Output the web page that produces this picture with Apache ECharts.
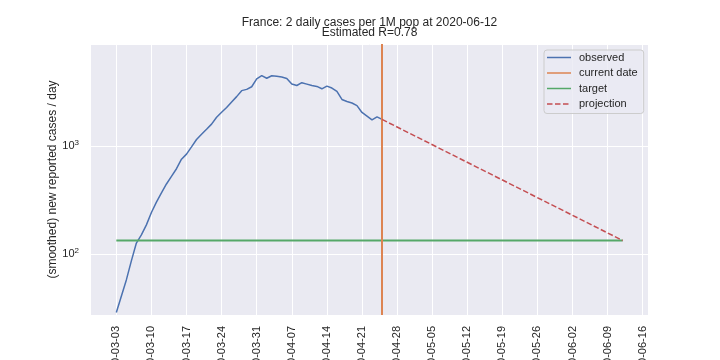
<!DOCTYPE html>
<html><head><meta charset="utf-8">
<script src="https://cdn.jsdelivr.net/npm/echarts@6/dist/echarts.min.js"></script>
<style>html,body{margin:0;padding:0;background:#fff}#c{width:720px;height:360px}</style>
</head><body><div id="c"></div>
<script>
// ---- data ----
const observedDates = [
  '2020-03-03','2020-03-04','2020-03-05','2020-03-06','2020-03-07','2020-03-08','2020-03-09',
  '2020-03-10','2020-03-11','2020-03-12','2020-03-13','2020-03-14','2020-03-15','2020-03-16',
  '2020-03-17','2020-03-18','2020-03-19','2020-03-20','2020-03-21','2020-03-22','2020-03-23',
  '2020-03-24','2020-03-25','2020-03-26','2020-03-27','2020-03-28','2020-03-29','2020-03-30',
  '2020-03-31','2020-04-01','2020-04-02','2020-04-03','2020-04-04','2020-04-05','2020-04-06',
  '2020-04-07','2020-04-08','2020-04-09','2020-04-10','2020-04-11','2020-04-12','2020-04-13',
  '2020-04-14','2020-04-15','2020-04-16','2020-04-17','2020-04-18','2020-04-19','2020-04-20',
  '2020-04-21','2020-04-22','2020-04-23','2020-04-24','2020-04-25'
];
const observedValues = [
  29, 41, 58, 87, 127, 151, 187,
  243, 303, 369, 446, 525, 617, 755,
  841, 982, 1148, 1285, 1429, 1592, 1845,
  2050, 2265, 2547, 2858, 3245, 3335, 3525,
  4170, 4470, 4225, 4450, 4400, 4335, 4210,
  3740, 3620, 3845, 3730, 3615, 3550, 3375,
  3575, 3430, 3200, 2690, 2580, 2495, 2360,
  2040, 1890, 1745, 1860, 1760
];
const currentDate = '2020-04-25';
const targetDates = ['2020-03-03', '2020-06-12'];
const targetValues = [134, 134];
const projectionDates = ['2020-04-25', '2020-06-12'];
const projectionValues = [1760, 134];
const xTickLabels = ['2020-03-03','2020-03-10','2020-03-17','2020-03-24','2020-03-31','2020-04-07',
  '2020-04-14','2020-04-21','2020-04-28','2020-05-05','2020-05-12','2020-05-19','2020-05-26',
  '2020-06-02','2020-06-09','2020-06-16'];

// ---- helpers ----
const T0 = Date.UTC(2020, 2, 3);
function dayOf(s) { const p = s.split('-').map(Number); return (Date.UTC(p[0], p[1]-1, p[2]) - T0) / 86400000; }
function dateOf(d) { const t = new Date(T0 + Math.round(d) * 86400000); return t.toISOString().slice(0, 10); }
const pairs = (ds, vs) => ds.map((d, i) => [dayOf(d), vs[i]]);
const tickDays = xTickLabels.map(dayOf);

const textColor = '#262626';
const C = { blue: '#4C72B0', orange: '#DD8452', green: '#55A868', red: '#C44E52' };

const chart = echarts.init(document.getElementById('c'), null, { renderer: 'canvas' });
chart.setOption({
  animation: false,
  backgroundColor: '#ffffff',
  textStyle: { fontFamily: 'Liberation Sans, Arial, sans-serif', color: textColor },
  title: {
    text: 'France: 2 daily cases per 1M pop at 2020-06-12\nEstimated R=0.78',
    left: 369.5, top: 17, textAlign: 'center', padding: 0,
    textStyle: { fontSize: 12, fontWeight: 'normal', color: textColor, lineHeight: 10.5, fontFamily: 'Liberation Sans, Arial, sans-serif' }
  },
  legend: {
    orient: 'vertical', left: 544, top: 50,
    padding: [2, 6, 4, 3],
    itemWidth: 24, itemHeight: 11, itemGap: 4.5,
    backgroundColor: 'rgba(234,234,242,0.8)', borderColor: '#cccccc', borderWidth: 1, borderRadius: 3,
    textStyle: { fontSize: 11, lineHeight: 11, color: textColor, padding: [0, 0, 0, 3], fontFamily: 'Liberation Sans, Arial, sans-serif' },
    data: [
      { name: 'observed', icon: 'path://M0,0h24v1.5h-24z', itemStyle: { color: C.blue } },
      { name: 'current date', icon: 'path://M0,0h24v1.5h-24z', itemStyle: { color: C.orange } },
      { name: 'target', icon: 'path://M0,0h24v1.5h-24z', itemStyle: { color: C.green } },
      { name: 'projection', icon: 'path://M0,0h5.5v1.5h-5.5z M8,0h5.5v1.5h-5.5z M16,0h5.5v1.5h-5.5z M24,0h0.01v1.5h-0.01z', itemStyle: { color: C.red } }
    ]
  },
  grid: { left: 91, top: 44, width: 557, height: 271, show: true, backgroundColor: '#EAEAF2', borderWidth: 0,
    containLabel: false, outerBoundsMode: 'none' },
  xAxis: {
    type: 'value', min: -5.05, max: 106.05,
    axisLine: { show: false },
    axisTick: { show: false, customValues: tickDays },
    axisLabel: { customValues: tickDays, rotate: 90, margin: 11, fontSize: 11, color: textColor,
      formatter: v => dateOf(v) },
    splitLine: { show: true, lineStyle: { color: '#ffffff', width: 1 } }
  },
  yAxis: {
    type: 'log', logBase: 10, min: 27.5, max: 8750,
    name: '(smoothed) new reported cases / day', nameLocation: 'middle', nameGap: 32, nameRotate: 90,
    nameMoveOverlap: false,
    nameTextStyle: { fontSize: 12, color: textColor },
    axisLine: { show: false }, axisTick: { show: false },
    minorTick: { show: false }, minorSplitLine: { show: false },
    axisLabel: {
      margin: 12, color: textColor,
      formatter: v => {
        const l = Math.log10(v), e = Math.round(l);
        if (Math.abs(l - e) > 1e-6) return '';
        return '{b|10}{s|' + e + '}';
      },
      rich: { b: { fontSize: 11, color: textColor }, s: { fontSize: 8, color: textColor, padding: [0, 0, 7, 0] } }
    },
    splitLine: { show: true, lineStyle: { color: '#ffffff', width: 1 } }
  },
  series: [
    { name: 'observed', type: 'line', data: pairs(observedDates, observedValues), showSymbol: false,
      lineStyle: { color: C.blue, width: 1.5 }, itemStyle: { color: C.blue }, z: 2 },
    { name: 'current date', type: 'line', data: [], showSymbol: false, itemStyle: { color: C.orange }, z: 3,
      markLine: { silent: true, symbol: ['none', 'none'], label: { show: false },
        lineStyle: { color: C.orange, width: 2, type: 'solid' },
        data: [{ xAxis: dayOf(currentDate) }] } },
    { name: 'target', type: 'line', data: pairs(targetDates, targetValues), showSymbol: false,
      lineStyle: { color: C.green, width: 2 }, itemStyle: { color: C.green }, z: 4 },
    { name: 'projection', type: 'line', data: pairs(projectionDates, projectionValues), showSymbol: false,
      lineStyle: { color: C.red, width: 1.5, type: [5.5, 2.4] }, itemStyle: { color: C.red }, z: 5 }
  ]
});
</script></body></html>
